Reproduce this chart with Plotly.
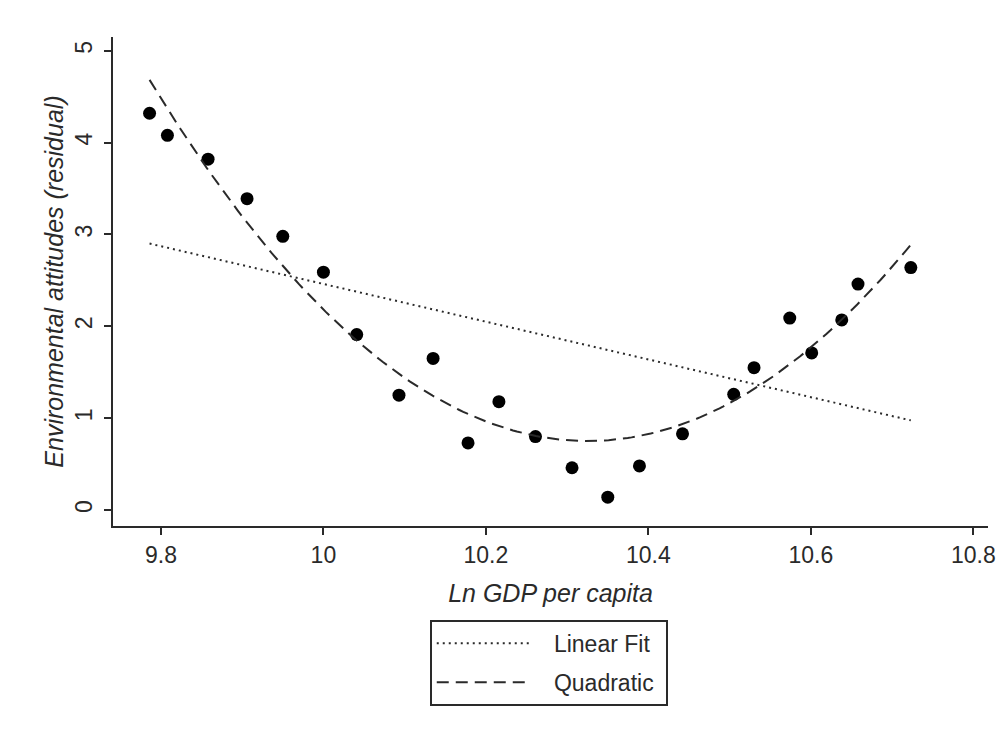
import numpy as np
import plotly.graph_objects as go

# Data
ln_gdp = [9.786, 9.808, 9.858, 9.906, 9.950, 10.000, 10.041, 10.093, 10.135, 10.178,
          10.216, 10.261, 10.306, 10.350, 10.389, 10.442, 10.505, 10.530, 10.574, 10.601,
          10.638, 10.658, 10.723]
attitudes = [4.32, 4.08, 3.82, 3.39, 2.98, 2.59, 1.91, 1.25, 1.65, 0.73,
             1.18, 0.80, 0.46, 0.14, 0.48, 0.83, 1.26, 1.55, 2.09, 1.71,
             2.07, 2.46, 2.64]
x_ticks = [9.8, 10, 10.2, 10.4, 10.6, 10.8]
y_ticks = [0, 1, 2, 3, 4, 5]
fit_names = ["Linear Fit", "Quadratic"]

x = np.array(ln_gdp)
y = np.array(attitudes)
xs = np.linspace(x.min(), x.max(), 200)
lin = np.polyval(np.polyfit(x, y, 1), xs)
quad = np.polyval(np.polyfit(x, y, 2), xs)

pad_l = "\u00a0" * 3
pad_r = "\u00a0"
ink = "#2a2a2a"
fig = go.Figure()
fig.add_trace(go.Scatter(x=x, y=y, mode="markers", showlegend=False,
                         marker=dict(color="black", size=13)))
fig.add_trace(go.Scatter(x=xs, y=lin, mode="lines", name=pad_l + fit_names[0] + pad_r,
                         legendgroup="a",
                         line=dict(color=ink, width=2, dash="2px,4px")))
fig.add_trace(go.Scatter(x=xs, y=quad, mode="lines", name=pad_l + fit_names[1] + pad_r,
                         legendgroup="b",
                         line=dict(color=ink, width=2, dash="12px,7px")))

font = "Liberation Sans, Arial, sans-serif"
fig.update_layout(
    width=1007, height=733,
    margin=dict(l=105, r=27, t=29, b=215, autoexpand=False),
    paper_bgcolor="white", plot_bgcolor="white",
    font=dict(family=font, size=24, color=ink),
    legend=dict(x=0.498, xanchor="center", y=-0.192, yanchor="top",
                bordercolor=ink, borderwidth=2, itemwidth=93,
                tracegroupgap=6, traceorder="grouped",
                font=dict(size=23)),
)
fig.update_xaxes(range=[9.741, 10.818], tickvals=x_ticks,
                 ticktext=[str(t) for t in x_ticks], automargin=False,
                 showgrid=False, zeroline=False, showline=True, linecolor=ink,
                 linewidth=2, ticks="outside", ticklen=7, tickwidth=2, tickcolor=ink,
                 tickfont=dict(size=23),
                 title=dict(text="<i>Ln GDP per capita</i>", font=dict(size=25), standoff=18))
fig.update_yaxes(range=[-0.174, 5.15], tickvals=y_ticks, tickangle=-90, automargin=False,
                 showgrid=False, zeroline=False, showline=True, linecolor=ink,
                 linewidth=2, ticks="outside", ticklen=7, tickwidth=2, tickcolor=ink,
                 tickfont=dict(size=23), ticklabelstandoff=3,
                 title=dict(text="<i>Environmental attitudes (residual)</i>", font=dict(size=25), standoff=0))

fig.write_html("out.html")
